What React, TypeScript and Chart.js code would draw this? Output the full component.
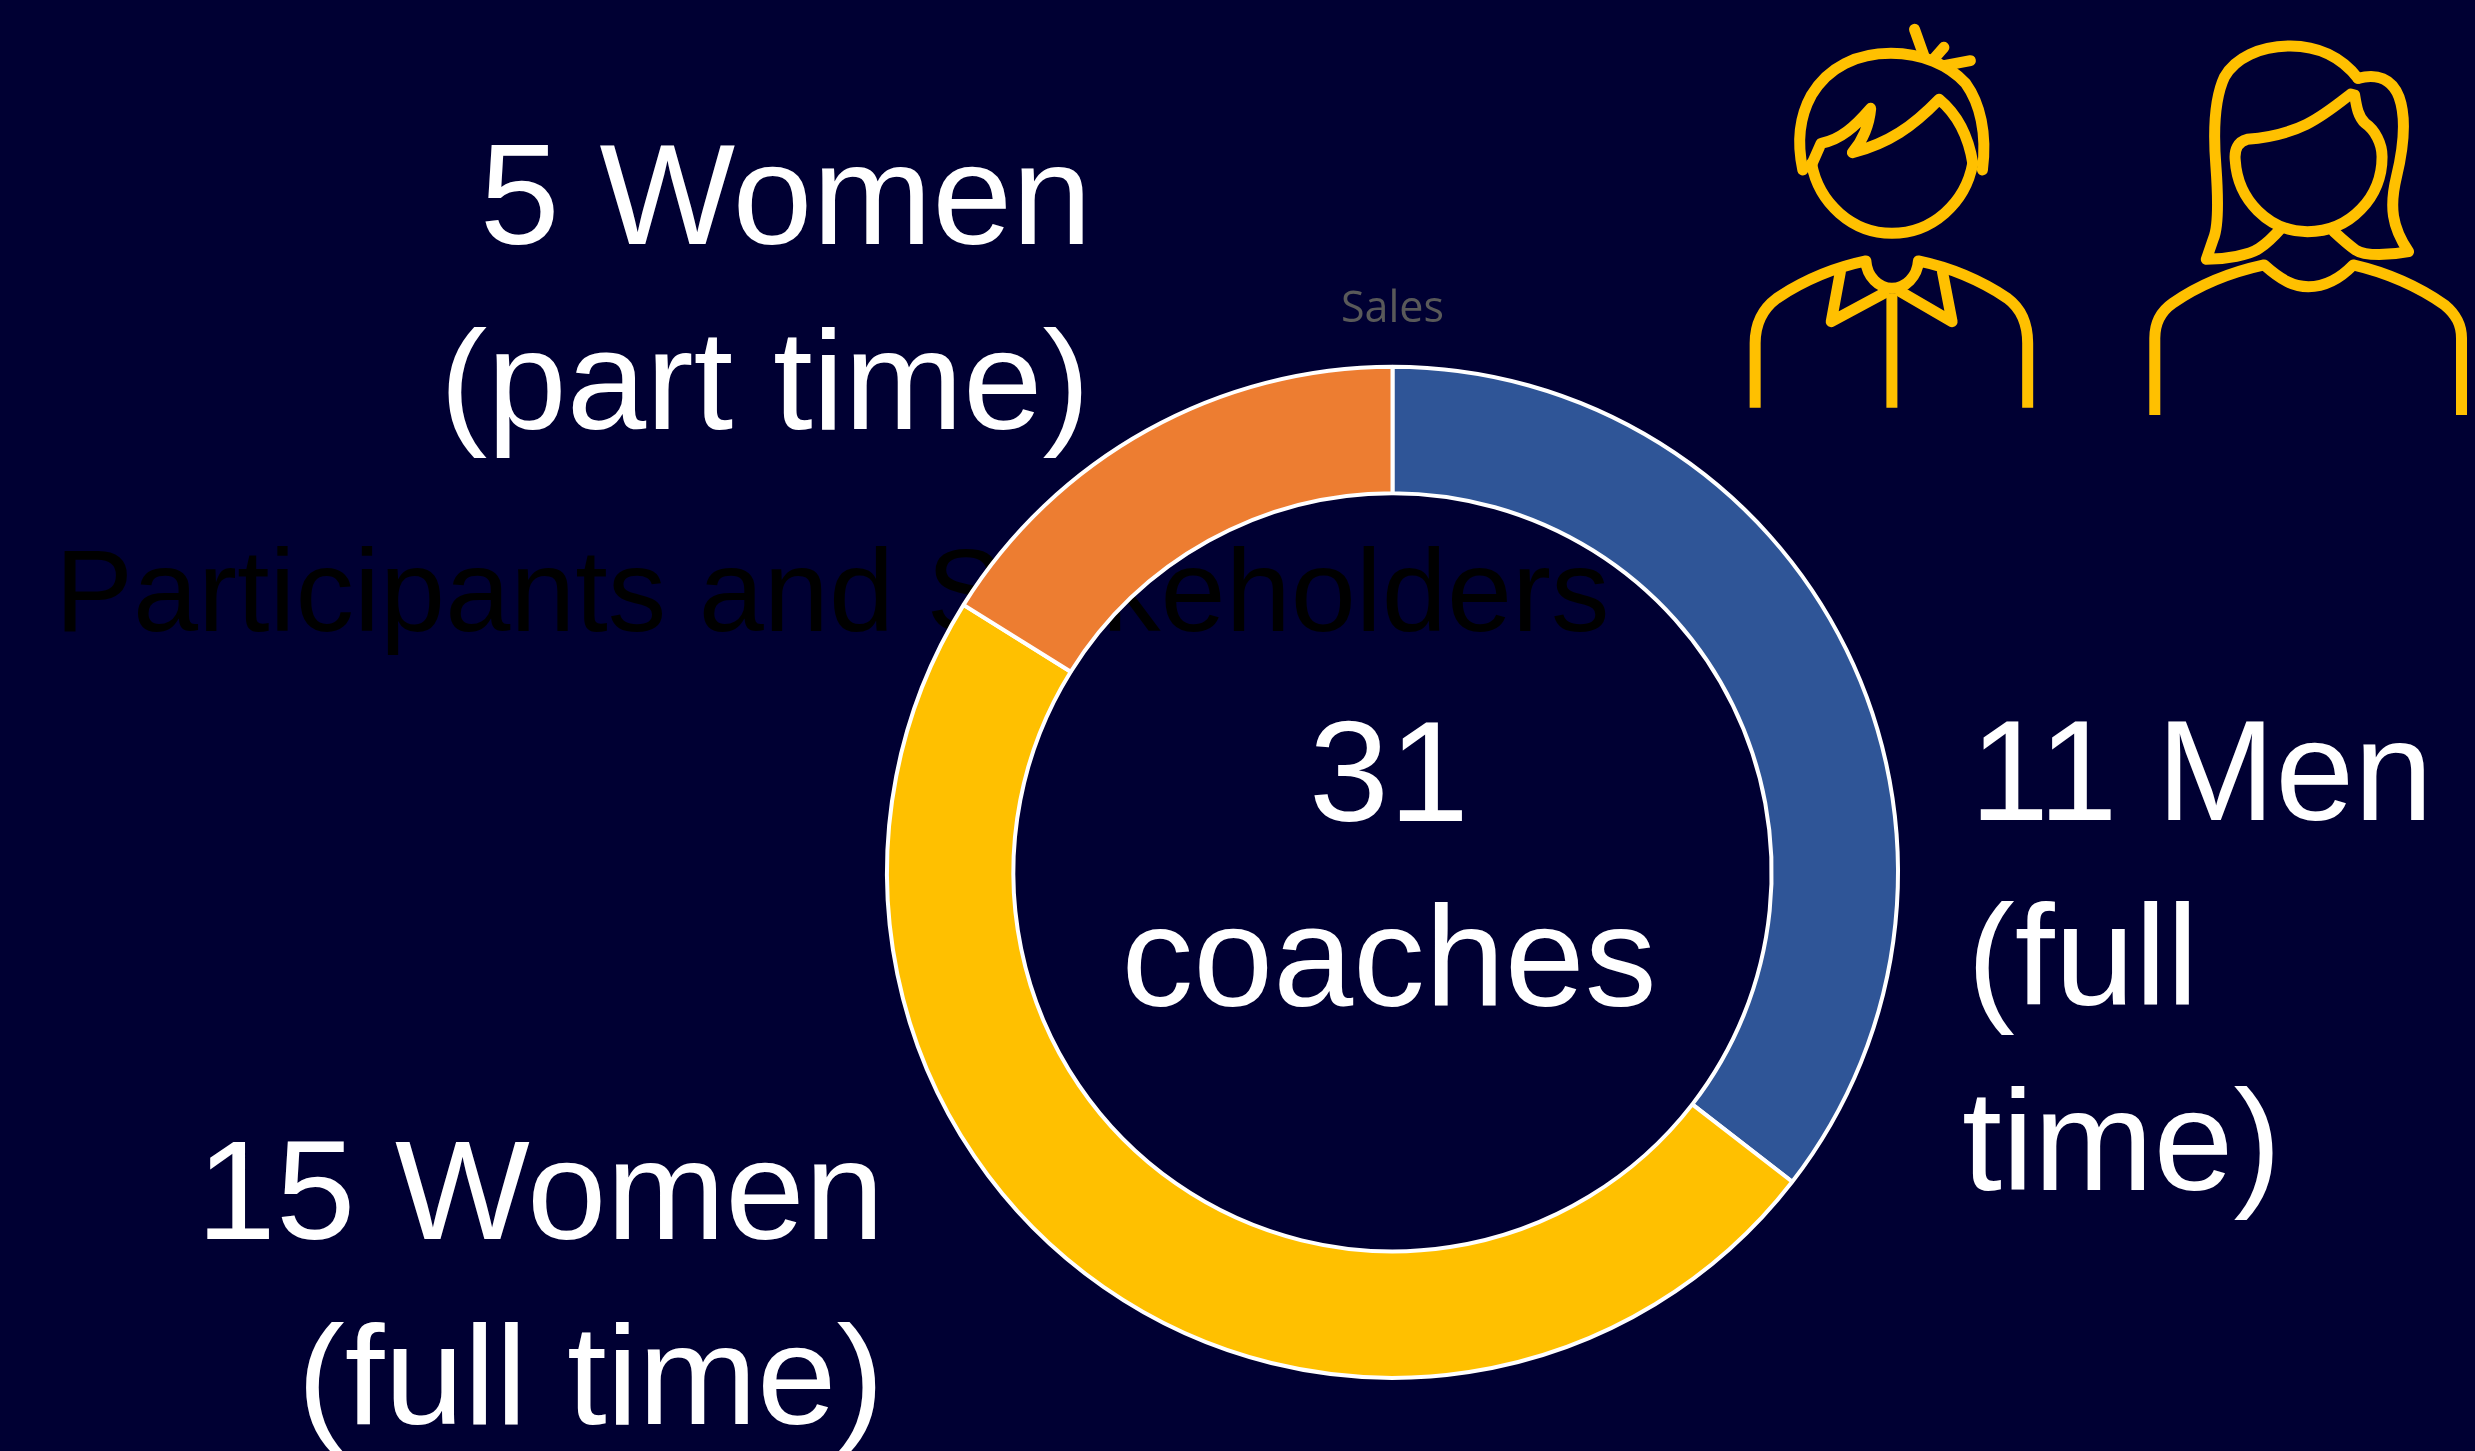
import React, { useEffect, useRef } from "react";
import { Chart, registerables } from "chart.js";

Chart.register(...registerables);

const categories = ["11 Men (full time)", "15 Women (full time)", "5 Women (part time)"];
const seriesValues = [11, 15, 5];
const sliceColors = ["#2F5597", "#FFC000", "#ED7D31"];
const seriesName = "Sales";
const slideTitle = "Participants and Stakeholders";
const whiteLabels = [
  { text: "5 Women", x: 1092, y: 244, anchor: "end", sx: 1.012 },
  { text: "(part time)", x: 1090, y: 429, anchor: "end", sx: 1.005 },
  { text: "15 Women", x: 884, y: 1239, anchor: "end", sx: 1.005 },
  { text: "(full time)", x: 884, y: 1424, anchor: "end", sx: 1.005 },
  { text: "11 Men", x: 1970, y: 820, anchor: "start", sx: 1 },
  { text: "(full", x: 1967, y: 1005, anchor: "start", sx: 1.012 },
  { text: "time)", x: 1962, y: 1190, anchor: "start", sx: 1.012 },
  { text: "31", x: 1389, y: 821, anchor: "middle", sx: 1.012 },
  { text: "coaches", x: 1389, y: 1006, anchor: "middle", sx: 1.012 },
];

const iconOpenPaths = [
  "M73 1223 L73 1030 C73 970 90 925 118 895 C170 845 230 805 303 783 C305 830 330 865 357 865 C385 865 410 830 412 783 C485 805 545 845 597 895 C625 925 639 970 639 1030 L639 1223",
  "M357 880 L357 1223",
  "M903 1245 L903 1015 C903 970 915 935 940 910 C990 860 1050 820 1130 795 C1165 840 1190 860 1222 860 C1255 860 1285 840 1315 795 C1390 820 1450 860 1505 915 C1530 945 1540 975 1540 1015 L1540 1245",
];
const iconRoundPaths = [
  "M250 815 L231 965 L340 880",
  "M462 815 L482 965 L375 875",
  "M190 490 C205 610 275 700 357 700 C440 700 510 610 525 490",
  "M172 510 C160 430 165 350 190 285 C225 200 285 160 355 160 C420 160 475 195 510 250 C540 310 555 400 545 510",
  "M190 495 L210 430 C250 420 280 380 313 325 C310 375 300 415 275 458 C350 430 400 380 455 298 C490 340 515 400 525 490",
  "M404 88 L423 165",
  "M465 142 L445 175",
  "M520 182 L465 197",
  "M1325 235 C1290 170 1240 138 1185 138 C1120 138 1070 175 1048 230 C1025 300 1025 410 1030 500 C1035 600 1035 680 1025 715 L1010 778 C1050 778 1100 765 1120 745 C1135 730 1150 710 1165 685",
  "M1325 235 C1365 220 1395 235 1410 290 C1425 350 1420 440 1405 530 C1390 620 1395 680 1430 755 C1395 765 1340 770 1320 750 C1305 735 1290 715 1275 695",
  "M1310 282 C1250 350 1205 405 1095 418 C1075 425 1068 450 1070 480 C1075 600 1140 695 1220 695 C1310 695 1375 590 1375 470 C1375 430 1360 390 1340 370 C1325 350 1322 320 1318 285 Z",
];

export default function App() {
  const ref = useRef<HTMLCanvasElement>(null);
  useEffect(() => {
    const chart = new Chart(ref.current!, {
      type: "doughnut",
      data: {
        labels: categories,
        datasets: [
          {
            label: seriesName,
            data: seriesValues,
            backgroundColor: sliceColors,
            borderColor: "#FFFFFF",
            borderWidth: 4,
            borderAlign: "center",
          },
        ],
      },
      options: {
        responsive: false,
        animation: false,
        cutout: "75%",
        layout: { padding: { left: 885, right: 575, top: 0, bottom: 67 } },
        plugins: {
          legend: { display: false },
          tooltip: { enabled: false },
          title: {
            display: true,
            text: seriesName,
            color: "#595959",
            font: { family: "'Open Sans'", size: 43, weight: "normal" },
            padding: { top: 284, bottom: 25 },
          },
        },
      },
    });
    return () => chart.destroy();
  }, []);

  return (
    <div style={{ position: "fixed", left: 0, top: 0, width: 2475, height: 1451, background: "#000033", overflow: "hidden" }}>
      <svg width={2475} height={1451} style={{ position: "absolute", left: 0, top: 0 }}>
        <text x={55} y={631} fill="#000000" fontFamily="'Liberation Sans'" fontSize={117}>{slideTitle}</text>
        {whiteLabels.map((l) => (
          <text key={l.text} transform={`translate(${l.x} ${l.y}) scale(${l.sx} 1)`} fill="#FFFFFF" textAnchor={l.anchor} fontFamily="'Liberation Sans'" fontSize={142}>{l.text}</text>
        ))}
        <g transform="translate(1720 0) scale(0.4815 0.3333)" fill="none" stroke="#FFC000" strokeWidth={11} strokeLinejoin="round">
          {iconOpenPaths.map((d, i) => (
            <path key={i} d={d} vectorEffect="non-scaling-stroke" />
          ))}
          {iconRoundPaths.map((d, i) => (
            <path key={i} d={d} strokeLinecap="round" vectorEffect="non-scaling-stroke" />
          ))}
        </g>
      </svg>
      <canvas ref={ref} width={2475} height={1451} style={{ position: "absolute", left: 0, top: 0, display: "block" }} />
    </div>
  );
}
